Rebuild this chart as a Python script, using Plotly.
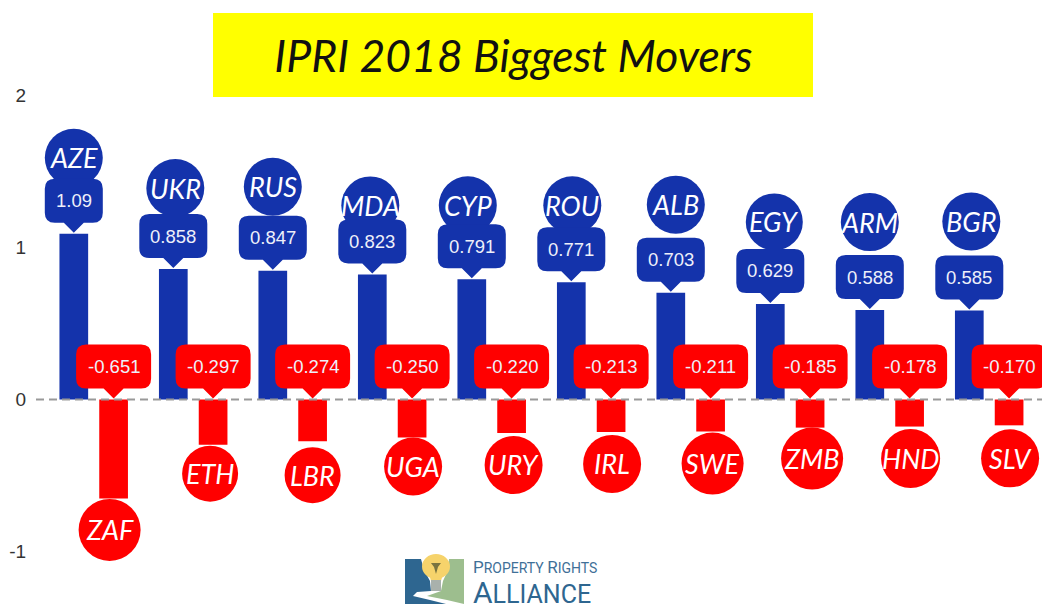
import plotly.graph_objects as go

# ---- data ----
gain_codes = ["AZE", "UKR", "RUS", "MDA", "CYP", "ROU", "ALB", "EGY", "ARM", "BGR"]
gain_values = [1.09, 0.858, 0.847, 0.823, 0.791, 0.771, 0.703, 0.629, 0.588, 0.585]
loss_codes = ["ZAF", "ETH", "LBR", "UGA", "URY", "IRL", "SWE", "ZMB", "HND", "SLV"]
loss_values = [-0.651, -0.297, -0.274, -0.250, -0.220, -0.213, -0.211, -0.185, -0.178, -0.170]
y_ticks = [-1, 0, 1, 2]
title_text = "IPRI 2018 Biggest Movers"

# ---- style / layout ----
W, H = 1042, 604
ML = 36
BLUE, RED = "#1433AB", "#FF0000"
X0, XSTEP, Y0, YSTEP = 93.7, 99.5, 399.5, 152.0
x_range = [(ML - X0) / XSTEP, (W - X0) / XSTEP]
y_range = [(Y0 - H) / YSTEP, Y0 / YSTEP]
GROUP_OFFSET = 0.2
BAR_W = 28.7 / XSTEP
LABEL_FONT = "Lato"
# hand-placed lollipop heads: distance in px from the bar end, radius, x nudge
gain_lift = [76, 81, 84, 69, 74, 77, 88, 82, 88, 89]
gain_nudge = [0, 2, 0, -2, -4, 1, 5, 4, 0, 2]
gain_radius = [29, 29, 29, 29, 29, 29, 29, 28.5, 29, 29]
loss_drop = [31.5, 29, 34, 29, 32, 32, 32, 31, 32, 33]
loss_nudge = [-4, -3, 0, 1, 2, 1, 2, 2, 1, 1]
loss_radius = [31, 28, 28, 29, 29, 29, 31, 31, 29.5, 29]

rank = list(range(len(gain_values)))
gain_x = [r - GROUP_OFFSET for r in rank]
loss_x = [r + GROUP_OFFSET for r in rank]


def pill_path(width, height=44, gap=1, tip=10, tip_half=10, radius=10, up=True):
    """Rounded callout with its pointer at the anchor; units are px, y is up."""
    s = 1 if up else -1
    hw = width / 2
    b = tip + gap
    t = b + height
    pts = [
        f"M0,{s * gap}",
        f"L{tip_half},{s * b}",
        f"L{hw - radius},{s * b}",
        f"Q{hw},{s * b} {hw},{s * (b + radius)}",
        f"L{hw},{s * (t - radius)}",
        f"Q{hw},{s * t} {hw - radius},{s * t}",
        f"L{-hw + radius},{s * t}",
        f"Q{-hw},{s * t} {-hw},{s * (t - radius)}",
        f"L{-hw},{s * (b + radius)}",
        f"Q{-hw},{s * b} {-hw + radius},{s * b}",
        f"L{-tip_half},{s * b}",
        "Z",
    ]
    return " ".join(pts)


def px(xp, yp):
    return (xp - ML) / (W - ML), 1 - yp / H


def poly(points, color):
    coords = [px(*p) for p in points]
    d = "M" + " L".join(f"{a:.5f},{b:.5f}" for a, b in coords) + " Z"
    return dict(type="path", xref="paper", yref="paper", path=d,
                fillcolor=color, line=dict(width=0), layer="above")


def rect(x0, y0, x1, y1, color, kind="rect", layer="above"):
    a = px(x0, y0)
    b = px(x1, y1)
    return dict(type=kind, xref="paper", yref="paper", x0=a[0], y0=a[1], x1=b[0], y1=b[1],
                fillcolor=color, line=dict(width=0), layer=layer)


PILL_W = {4: 58, 5: 68, 6: 75}
shapes, annotations = [], []

# yellow title plate
shapes.append(rect(213, 13, 813, 97, "#FFFF00", layer="below"))

# zero line
shapes.append(dict(type="line", xref="paper", yref="y", x0=0, x1=1, y0=0, y1=0,
                   line=dict(color="#999999", width=2, dash="8px,5px"), layer="above"))


def add_series(xs, values, codes, color, offs, nudges, radii, up):
    for x, v, code, off, nudge, r in zip(xs, values, codes, offs, nudges, radii):
        label = f"{v:.3f}" if code != "AZE" else f"{v:.2f}"
        # head circle
        cy = off if up else -off
        shapes.append(dict(type="circle", xsizemode="pixel", ysizemode="pixel",
                           xanchor=x, yanchor=v, xref="x", yref="y",
                           x0=nudge - r, x1=nudge + r, y0=cy - r, y1=cy + r,
                           fillcolor=color, line=dict(width=0), layer="above"))
        annotations.append(dict(x=x, y=v, xref="x", yref="y", text=code, showarrow=False,
                                xshift=nudge, yshift=cy,
                                font=dict(family=LABEL_FONT, size=27, color="white", style="italic")))
        # value callout: always sits above the zero/bar top
        shapes.append(dict(type="path", xsizemode="pixel", ysizemode="pixel",
                           xanchor=x, yanchor=max(v, 0), xref="x", yref="y",
                           path=pill_path(PILL_W[len(label)]),
                           fillcolor=color, line=dict(width=0), layer="above"))
        annotations.append(dict(x=x, y=max(v, 0), xref="x", yref="y", text=label, showarrow=False,
                                yshift=33,
                                font=dict(family="Liberation Sans", size=18.5, color="#EEF0FA")))


add_series(gain_x, gain_values, gain_codes, BLUE, gain_lift, gain_nudge, gain_radius, True)
add_series(loss_x, loss_values, loss_codes, RED, loss_drop, loss_nudge, loss_radius, False)

# logo, reaching the bottom of the picture as in the source
LOGO_BLUE, LOGO_GREEN = "#2E6690", "#9DBE8E"
shapes += [
    poly([(405, 559), (421, 559), (424, 570), (430, 581), (431, 591), (417, 592), (413, 596),
          (430, 600), (446, 604), (405, 604)], LOGO_BLUE),
    poly([(464, 559), (449, 559), (448, 570), (443, 581), (441, 591), (427, 596), (447, 600),
          (464, 604)], LOGO_GREEN),
    rect(422, 554, 450, 579, "#F6D36B", "circle"),
    poly([(429, 574), (443, 574), (441, 581), (431, 581)], "#F6D36B"),
    rect(431, 580, 441, 591, "#A9B1AC"),
    poly([(431, 563), (441, 563), (438, 567), (436, 574), (434, 567)], "#7A7440"),
]
annotations.append(dict(xref="paper", yref="paper", x=px(471, 0)[0], y=px(0, 567)[1], xanchor="left",
                        yanchor="middle", showarrow=False,
                        text='<span style="font-size:17px">P</span>ROPERTY <span style="font-size:17px">R</span>IGHTS',
                        font=dict(family="Roboto", size=14, color="#3F7098")))
annotations.append(dict(xref="paper", yref="paper", x=px(471, 0)[0], y=px(0, 592)[1], xanchor="left",
                        yanchor="middle", showarrow=False,
                        text='<span style="font-size:30px">A</span>LLIANCE',
                        font=dict(family="Roboto", size=25, color="#2E6690")))

fig = go.Figure()
fig.add_bar(x=gain_x, y=gain_values, width=BAR_W, marker=dict(color=BLUE, line=dict(width=0)),
            name="Biggest gains", text=gain_codes, textposition="none")
fig.add_bar(x=loss_x, y=loss_values, width=BAR_W, marker=dict(color=RED, line=dict(width=0)),
            name="Biggest losses", text=loss_codes, textposition="none")

fig.update_layout(
    width=W, height=H, barmode="overlay", showlegend=False,
    paper_bgcolor="white", plot_bgcolor="white",
    margin=dict(l=ML, r=0, t=0, b=0, pad=0),
    title=dict(text=title_text, xref="container", yref="container", x=513.5 / W, y=1 - 56 / H,
               xanchor="center", yanchor="middle",
               font=dict(family=LABEL_FONT, size=44.5, color="#111111", style="italic")),
    xaxis=dict(range=x_range, visible=False, fixedrange=True),
    yaxis=dict(range=y_range, tickmode="array", tickvals=y_ticks, ticktext=[str(t) for t in y_ticks],
               showgrid=False, zeroline=False, showline=False, ticks="outside", ticklen=5,
               tickcolor="rgba(0,0,0,0)", tickfont=dict(family="Liberation Sans", size=19, color="#333333"),
               fixedrange=True),
    shapes=shapes, annotations=annotations,
)
fig.write_html("out.html", config={"displayModeBar": False},
               post_script="document.body.style.margin='0';document.body.style.overflow='hidden';")
